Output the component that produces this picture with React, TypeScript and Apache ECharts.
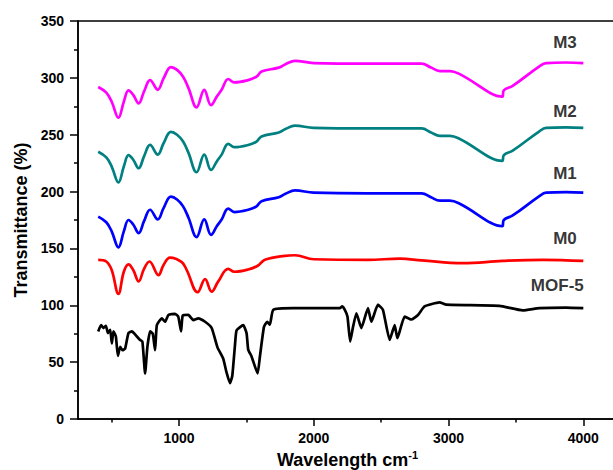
import React, { useEffect, useRef } from "react";
import * as echarts from "echarts";

// [wavenumber, transmittance]
const m3: [number, number][] = [
  [400, 292], [460, 287], [500, 279], [550, 265], [590, 279], [625, 289], [660, 285], [700, 277.5],
  [740, 288], [785, 298], [842, 289.5], [885, 299.5], [940, 309.5], [985, 307], [1030, 301],
  [1070, 291], [1130, 274], [1187, 289.5], [1237, 276], [1280, 283.5], [1316, 289.5], [1365, 299],
  [1410, 296], [1513, 298], [1575, 301], [1612, 305.5], [1740, 309], [1790, 312], [1860, 315],
  [2000, 313], [2400, 312.5], [2800, 312.5], [2870, 309], [2935, 306], [3010, 306], [3080, 303.5],
  [3398, 283.5], [3410, 289], [3476, 293], [3674, 310], [3724, 313], [3872, 313.5], [4000, 313],
];
const m2: [number, number][] = [
  [400, 235], [460, 230], [500, 222], [550, 208], [590, 222], [625, 232], [660, 228], [700, 220.5],
  [740, 231], [785, 241], [842, 232.5], [885, 242.5], [940, 252.5], [985, 250], [1030, 244],
  [1070, 234], [1130, 217], [1187, 232.5], [1237, 219], [1280, 226.5], [1316, 232.5], [1365, 242],
  [1410, 239], [1513, 241], [1575, 244], [1612, 248.5], [1740, 252], [1790, 255], [1860, 258],
  [2000, 256], [2400, 255.5], [2800, 255.5], [2870, 252], [2935, 249], [3010, 249], [3080, 246.5],
  [3398, 227], [3410, 232], [3476, 236], [3674, 253], [3724, 256], [3872, 256.5], [4000, 256],
];
const m1: [number, number][] = [
  [400, 178], [460, 173], [500, 165], [550, 151], [590, 165], [625, 175], [660, 171], [700, 163.5],
  [740, 174], [785, 184], [842, 175.5], [885, 185.5], [940, 195.5], [985, 193], [1030, 187],
  [1070, 177], [1130, 160], [1187, 175.5], [1237, 162], [1280, 169.5], [1316, 175.5], [1365, 185],
  [1410, 182], [1513, 184], [1575, 187], [1612, 191.5], [1740, 195], [1790, 198], [1860, 201],
  [2000, 199], [2400, 198.5], [2800, 198.5], [2870, 195], [2935, 192], [3010, 192], [3080, 189.5],
  [3398, 169.5], [3410, 175], [3476, 179], [3674, 196], [3724, 199], [3872, 199.5], [4000, 199],
];
const m0: [number, number][] = [
  [400, 140], [460, 138.5], [500, 131], [550, 110], [590, 129.5], [625, 136], [660, 131], [700, 121],
  [740, 132], [780, 138.5], [847, 126.5], [885, 135.5], [933, 142], [1020, 138], [1057, 131],
  [1138, 111.5], [1193, 123], [1242, 112], [1291, 121], [1365, 132], [1410, 129.5], [1513, 131.5],
  [1587, 135], [1637, 140], [1785, 143.5], [1860, 144], [2000, 140.5], [2400, 140], [2640, 141],
  [2800, 139.5], [3106, 137], [3400, 139], [3700, 140], [4000, 139],
];
const mof5: [number, number][] = [
  [400, 77], [410, 80], [422, 82.5], [439, 80], [457, 82], [472, 75.5], [489, 78.5], [501, 66.5],
  [513, 77], [531, 72.5], [546, 55.5], [563, 63.5], [580, 60.5], [600, 62], [624, 75.5], [650, 77],
  [687, 72.5], [711, 69.5], [728, 68], [748, 40], [765, 63.5], [785, 77], [805, 75], [822, 60.5],
  [835, 82.5], [872, 88.5], [896, 85.5], [921, 91.5], [970, 92.5], [994, 90], [1015, 77], [1027, 91],
  [1069, 91.5], [1106, 87], [1143, 88.5], [1193, 85.5], [1242, 80], [1285, 63], [1328, 53],
  [1350, 42], [1378, 31.5], [1395, 38], [1415, 65], [1427, 78], [1476, 82.5], [1501, 75.5],
  [1513, 61], [1538, 55], [1583, 40], [1600, 55], [1630, 81], [1654, 85.5], [1674, 83], [1699, 96],
  [1847, 97.5], [2193, 97.5], [2210, 99], [2230, 96], [2250, 90], [2270, 68], [2291, 81], [2316, 93],
  [2353, 80], [2402, 97.5], [2427, 85.5], [2476, 100.5], [2513, 96], [2563, 69.5], [2600, 82.5],
  [2620, 71], [2674, 90], [2723, 87.5], [2773, 91.5], [2822, 99], [2933, 102.5], [2983, 100.5],
  [3378, 99.5], [3551, 95.5], [3674, 97.5], [3872, 98], [4000, 97.5],
];

const seriesNames = ["MOF-5", "M0", "M1", "M2", "M3"];
const seriesColors = ["#000000", "#ff0000", "#0000ff", "#008080", "#ff00ff"];
const seriesData = [mof5, m0, m1, m2, m3];
const labelPositions: [number, number][] = [
  [3807, 117], [3864, 159], [3864, 216], [3864, 270.5], [3864, 331],
];

const xLabelTicks = [1000, 2000, 3000, 4000];
const xMinorTicks = [500, 1500, 2500, 3500];

const FONT = 'Arial, "Liberation Sans", sans-serif';

export default function App() {
  const ref = useRef<HTMLDivElement>(null);
  useEffect(() => {
    if (!ref.current) return;
    const chart = echarts.init(ref.current, null, { renderer: "svg" });
    const lineSeries = seriesData.map((d, i) => ({
      type: "line",
      name: seriesNames[i],
      data: d,
      xAxisIndex: 0,
      yAxisIndex: 0,
      showSymbol: false,
      smooth: i === 0 ? 0.15 : 0.4,
      lineStyle: { color: seriesColors[i], width: 2.7 },
      itemStyle: { color: seriesColors[i] },
      silent: true,
      z: 3,
    }));
    const labelSeries = {
      type: "scatter",
      xAxisIndex: 0,
      yAxisIndex: 0,
      symbolSize: 0,
      silent: true,
      data: labelPositions.map((p, i) => ({ name: seriesNames[i], value: p })),
      label: {
        show: true,
        position: "inside",
        formatter: "{b}",
        color: "#000",
        fontFamily: FONT,
        fontWeight: "bold",
        fontSize: 17,
      },
    };
    chart.setOption({
      animation: false,
      grid: {
        left: 78,
        top: 21,
        right: 13,
        bottom: 51,
        show: true,
        borderColor: "#000",
        borderWidth: 1.5,
        containLabel: false,
        outerBoundsMode: "none",
      },
      xAxis: [
        {
          type: "value",
          min: 250,
          max: 4250,
          splitLine: { show: false },
          axisLine: { show: true, lineStyle: { color: "#000", width: 1.5 } },
          axisTick: { show: true, length: 7, customValues: xLabelTicks, lineStyle: { color: "#000", width: 1.5 } },
          axisLabel: {
            customValues: xLabelTicks,
            formatter: (v: number) => String(v),
            margin: 12,
            color: "#000",
            fontFamily: FONT,
            fontWeight: "bold",
            fontSize: 14,
          },
          name: "Wavelength cm{sup|-1}",
          nameLocation: "middle",
          nameGap: 17,
          nameTextStyle: {
            color: "#000",
            fontFamily: FONT,
            fontWeight: "bold",
            fontSize: 18,
            rich: {
              sup: {
                color: "#000",
                fontFamily: FONT,
                fontWeight: "bold",
                fontSize: 11,
                verticalAlign: "bottom",
                padding: [0, 0, 10, 0],
              },
            },
          },
        },
        {
          type: "value",
          min: 250,
          max: 4250,
          position: "bottom",
          splitLine: { show: false },
          axisLine: { show: false },
          axisTick: { show: true, length: 3.5, customValues: xMinorTicks, lineStyle: { color: "#000", width: 1.5 } },
          axisLabel: { show: false },
        },
      ],
      yAxis: {
        type: "value",
        min: 0,
        max: 350,
        interval: 50,
        splitLine: { show: false },
        axisLine: { show: true, lineStyle: { color: "#000", width: 1.5 } },
        axisTick: { show: true, length: 8, lineStyle: { color: "#000", width: 1.5 } },
        minorTick: { show: true, splitNumber: 2, length: 4, lineStyle: { color: "#000", width: 1.5 } },
        minorSplitLine: { show: false },
        axisLabel: {
          margin: 14,
          color: "#000",
          fontFamily: FONT,
          fontWeight: "bold",
          fontSize: 14,
        },
        name: "Transmittance (%)",
        nameLocation: "middle",
        nameGap: 48,
        nameTextStyle: {
          color: "#000",
          fontFamily: FONT,
          fontWeight: "bold",
          fontSize: 18,
        },
      },
      series: [...lineSeries, labelSeries],
    });
    return () => chart.dispose();
  }, []);
  return (
    <div
      ref={ref}
      style={{ position: "fixed", left: 0, top: 0, width: 630, height: 470, background: "#fff" }}
    />
  );
}
